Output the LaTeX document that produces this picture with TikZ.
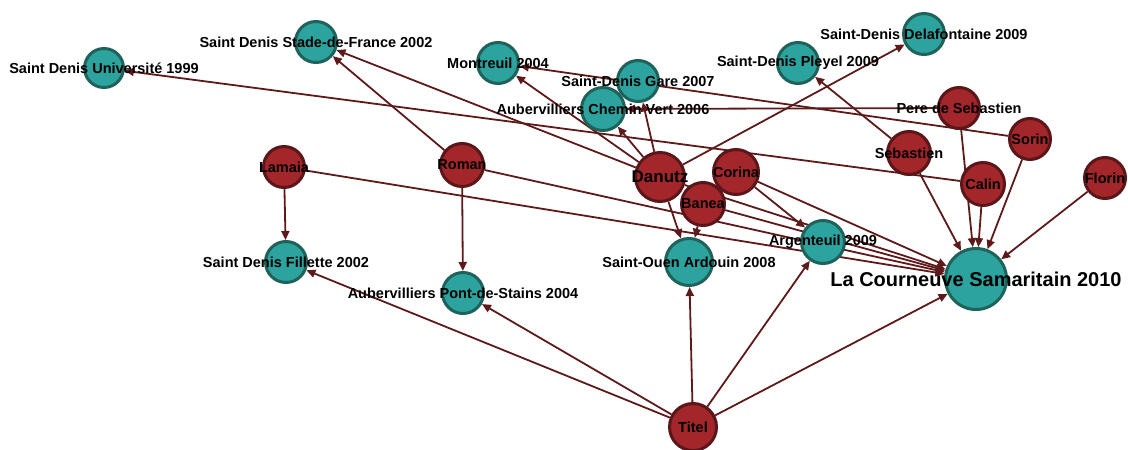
\documentclass[tikz,border=0pt]{standalone}
\usepackage{fontspec}
\setmainfont{Liberation Sans}
\usepackage{tikz}
\usetikzlibrary{arrows.meta,backgrounds}
\definecolor{SiteFill}{HTML}{2CA39F}
\definecolor{SiteLine}{HTML}{1E625A}
\definecolor{PersFill}{HTML}{A3262B}
\definecolor{PersLine}{HTML}{5A1618}
\definecolor{EdgeInk}{HTML}{5E1A1A}

\begin{document}
\begin{tikzpicture}[x=1pt, y=-1pt,
    site/.style={
      circle, draw=SiteLine, fill=SiteFill, line width=3pt,
      inner sep=0pt, minimum size=41pt
    },
    pers/.style={
      circle, draw=PersLine, fill=PersFill, line width=3pt,
      inner sep=0pt, minimum size=41pt
    },
    lbl/.style={font=\bfseries\fontsize{14.5}{16}\selectfont, text=black, inner sep=0pt},
    biglbl/.style={lbl, font=\bfseries\fontsize{20}{22}\selectfont},
    arr/.style={-{Triangle[length=9pt, width=8pt]}, line width=1.8pt, color=EdgeInk}
  ]
  \useasboundingbox (0,0) rectangle (1128,450);

  % Sites
  \node[site, minimum size=39pt] (sdu) at (104,68) {};
  \node[site] (sdsf) at (316,42) {};
  \node[site] (mon) at (498,63) {};
  \node[site] (gare) at (638,81) {};
  \node[site, minimum size=43pt] (chv) at (603,109) {};
  \node[site] (pleyel) at (798,63) {};
  \node[site] (delaf) at (924,34) {};
  \node[site] (fillette) at (286,262) {};
  \node[site] (pont) at (463,293) {};
  \node[site, minimum size=47pt] (ouen) at (689,262) {};
  \node[site, minimum size=43pt] (arg) at (823,242) {};
  \node[site, minimum size=61pt] (cour) at (976,279) {};

  % People
  \node[pers] (lamaia) at (284,167) {};
  \node[pers, minimum size=43pt] (roman) at (462,165) {};
  \node[pers, minimum size=49pt] (danutz) at (660,177) {};
  \node[pers, minimum size=45pt] (corina) at (736,172) {};
  \node[pers, minimum size=43pt] (banea) at (703,204) {};
  \node[pers, minimum size=43pt] (seb) at (909,153) {};
  \node[pers] (pere) at (959,108) {};
  \node[pers] (sorin) at (1030,139) {};
  \node[pers, minimum size=43pt] (calin) at (983,184) {};
  \node[pers] (florin) at (1105,178) {};
  \node[pers, minimum size=47pt] (titel) at (693,427) {};

  % Arrows
  \begin{scope}[on background layer]
    \draw[arr] (lamaia) -- (fillette);
    \draw[arr] (lamaia) -- (cour);
    \draw[arr] (roman) -- (pont);
    \draw[arr] (roman) -- (sdsf);
    \draw[arr] (roman) -- (cour);
    \draw[arr] (danutz) -- (sdsf);
    \draw[arr] (danutz) -- (mon);
    \draw[arr] (danutz) -- (chv);
    \draw[arr] (danutz) -- (gare);
    \draw[arr] (danutz) -- (delaf);
    \draw[arr] (danutz) -- (ouen);
    \draw[arr] (danutz) -- (cour);
    \draw[arr] (banea) -- (ouen);
    \draw[arr] (banea) -- (cour);
    \draw[arr] (corina) -- (arg);
    \draw[arr] (corina) -- (cour);
    \draw[arr] (sorin) -- (mon);
    \draw[arr] (sorin) -- (cour);
    \draw[arr] (pere) -- (chv);
    \draw[arr] (pere) -- (cour);
    \draw[arr] (calin) -- (sdu);
    \draw[arr] (calin) -- (cour);
    \draw[arr] (seb) -- (pleyel);
    \draw[arr] (seb) -- (cour);
    \draw[arr] (florin) -- (cour);
    \draw[arr] (titel) -- (fillette);
    \draw[arr] (titel) -- (pont);
    \draw[arr] (titel) -- (ouen);
    \draw[arr] (titel) -- (arg);
    \draw[arr] (titel) -- (cour);
  \end{scope}

  % Labels
  \node[lbl] (sdu-l) at (sdu) {Saint Denis Université 1999};
  \node[lbl] (sdsf-l) at (sdsf) {Saint Denis Stade-de-France 2002};
  \node[lbl] (mon-l) at (mon) {Montreuil 2004};
  \node[lbl] (gare-l) at (gare) {Saint-Denis Gare 2007};
  \node[lbl] (chv-l) at (chv) {Aubervilliers Chemin Vert 2006};
  \node[lbl] (pleyel-l) at (pleyel) {Saint-Denis Pleyel 2009};
  \node[lbl] (delaf-l) at (delaf) {Saint-Denis Delafontaine 2009};
  \node[lbl] (fillette-l) at (fillette) {Saint Denis Fillette 2002};
  \node[lbl] (pont-l) at (pont) {Aubervilliers Pont-de-Stains 2004};
  \node[lbl] (ouen-l) at (ouen) {Saint-Ouen Ardouin 2008};
  \node[lbl] (arg-l) at (arg) {Argenteuil 2009};
  \node[biglbl] (cour-l) at (cour) {La Courneuve Samaritain 2010};
  \node[lbl] (lamaia-l) at (lamaia) {Lamaia};
  \node[lbl] (roman-l) at (roman) {Roman};
  \node[lbl, font=\bfseries\fontsize{17}{19}\selectfont] (danutz-l) at (danutz) {Danutz};
  \node[lbl] (corina-l) at (corina) {Corina};
  \node[lbl] (banea-l) at (banea) {Banea};
  \node[lbl] (seb-l) at (seb) {Sebastien};
  \node[lbl] (pere-l) at (pere) {Pere de Sebastien};
  \node[lbl] (sorin-l) at (sorin) {Sorin};
  \node[lbl] (calin-l) at (calin) {Calin};
  \node[lbl] (florin-l) at (florin) {Florin};
  \node[lbl] (titel-l) at (titel) {Titel};

\end{tikzpicture}
\end{document}
